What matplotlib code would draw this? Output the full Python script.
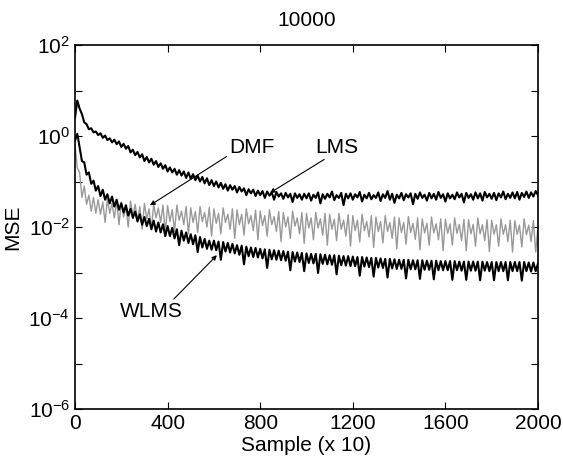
import numpy as np
import matplotlib
matplotlib.use("Agg")
import matplotlib.pyplot as plt
from matplotlib.ticker import FixedLocator, FuncFormatter, NullLocator

plt.rcParams['font.family'] = ['Liberation Sans', 'DejaVu Sans']
plt.rcParams['mathtext.default'] = 'regular'

# sample index (x 10), one value every 10 samples
sample = np.linspace(0, 2000, 201)

# log10(MSE)
lms_log10 = [
    0.40, 0.78, 0.60, 0.48, 0.30, 0.26, 0.15, 0.17, 0.08, 0.10,
    0.02, 0.06, -0.04, 0.01, -0.09, -0.05, -0.14, -0.08, -0.18, -0.12,
    -0.24, -0.17, -0.28, -0.22, -0.36, -0.30, -0.42, -0.35, -0.47, -0.40,
    -0.55, -0.46, -0.58, -0.50, -0.63, -0.55, -0.68, -0.60, -0.72, -0.64,
    -0.78, -0.69, -0.80, -0.72, -0.85, -0.75, -0.87, -0.78, -0.92, -0.80,
    -0.94, -0.84, -0.97, -0.87, -1.00, -0.90, -1.04, -0.93, -1.08, -0.97,
    -1.10, -1.00, -1.13, -1.03, -1.16, -1.06, -1.20, -1.08, -1.18, -1.10,
    -1.24, -1.12, -1.22, -1.15, -1.30, -1.17, -1.26, -1.18, -1.32, -1.20,
    -1.30, -1.21, -1.36, -1.22, -1.31, -1.24, -1.40, -1.23, -1.33, -1.26,
    -1.38, -1.25, -1.35, -1.27, -1.45, -1.26, -1.36, -1.28, -1.40, -1.27,
    -1.37, -1.26, -1.42, -1.29, -1.36, -1.24, -1.48, -1.28, -1.38, -1.27,
    -1.35, -1.22, -1.41, -1.30, -1.36, -1.25, -1.52, -1.27, -1.37, -1.26,
    -1.40, -1.28, -1.35, -1.23, -1.44, -1.29, -1.37, -1.25, -1.39, -1.30,
    -1.36, -1.24, -1.43, -1.28, -1.36, -1.21, -1.40, -1.27, -1.47, -1.29,
    -1.37, -1.25, -1.41, -1.28, -1.35, -1.26, -1.50, -1.27, -1.38, -1.24,
    -1.36, -1.29, -1.42, -1.25, -1.37, -1.27, -1.40, -1.23, -1.36, -1.28,
    -1.44, -1.26, -1.37, -1.29, -1.39, -1.24, -1.35, -1.27, -1.46, -1.25,
    -1.36, -1.28, -1.40, -1.24, -1.37, -1.26, -1.42, -1.23, -1.35, -1.27,
    -1.38, -1.25, -1.41, -1.26, -1.35, -1.22, -1.39, -1.27, -1.36, -1.24,
    -1.37, -1.23, -1.40, -1.25, -1.34, -1.22, -1.36, -1.24, -1.33, -1.21,
    -1.30,
]

wlms_log10 = [
    -0.10, 0.05, -0.25, -0.55, -0.58, -0.85, -0.80, -1.05, -0.98, -1.20,
    -1.10, -1.32, -1.18, -1.40, -1.28, -1.48, -1.33, -1.55, -1.40, -1.62,
    -1.48, -1.68, -1.52, -1.75, -1.60, -1.80, -1.66, -1.88, -1.72, -1.95,
    -1.78, -1.98, -1.82, -2.05, -1.86, -2.10, -1.90, -2.12, -1.94, -2.20,
    -1.98, -2.20, -2.02, -2.25, -2.05, -2.40, -2.08, -2.30, -2.12, -2.35,
    -2.16, -2.38, -2.18, -2.55, -2.22, -2.45, -2.26, -2.48, -2.30, -2.50,
    -2.30, -2.51, -2.32, -2.72, -2.33, -2.54, -2.35, -2.56, -2.37, -2.58,
    -2.40, -2.61, -2.41, -2.82, -2.43, -2.64, -2.45, -2.66, -2.46, -2.67,
    -2.48, -2.69, -2.49, -2.90, -2.50, -2.71, -2.51, -2.72, -2.52, -2.73,
    -2.53, -2.74, -2.54, -2.95, -2.55, -2.76, -2.56, -2.77, -2.57, -2.97,
    -2.58, -2.79, -2.59, -2.80, -2.59, -3.01, -2.60, -2.81, -2.61, -2.82,
    -2.62, -2.83, -2.62, -3.04, -2.63, -2.84, -2.64, -2.85, -2.64, -2.86,
    -2.65, -2.86, -2.66, -3.07, -2.66, -2.87, -2.67, -2.88, -2.68, -3.09,
    -2.68, -2.89, -2.69, -2.90, -2.70, -3.11, -2.70, -2.91, -2.71, -2.92,
    -2.72, -2.92, -2.72, -3.13, -2.72, -2.93, -2.73, -2.93, -2.73, -3.14,
    -2.73, -2.94, -2.74, -2.94, -2.74, -3.15, -2.74, -2.95, -2.75, -2.95,
    -2.75, -2.95, -2.75, -3.16, -2.75, -2.95, -2.76, -2.96, -2.76, -3.16,
    -2.76, -2.96, -2.76, -2.96, -2.76, -3.17, -2.76, -2.96, -2.77, -2.97,
    -2.77, -3.17, -2.77, -2.97, -2.77, -2.97, -2.77, -3.17, -2.77, -2.97,
    -2.77, -2.97, -2.77, -3.18, -2.77, -2.97, -2.78, -2.98, -2.78, -2.97,
    -2.80,
]

dmf_log10 = [
    -0.20, -0.70, -0.80, -1.35, -1.10, -1.50, -1.30, -1.65, -1.35, -1.70,
    -1.40, -1.72, -1.45, -1.90, -1.38, -1.70, -1.48, -1.80, -1.42, -1.95,
    -1.45, -1.78, -1.55, -2.00, -1.43, -1.75, -1.50, -1.85, -1.55, -2.05,
    -1.48, -1.82, -1.60, -2.05, -1.50, -1.80, -1.58, -1.90, -1.52, -2.12,
    -1.53, -1.88, -1.62, -2.10, -1.52, -1.85, -1.65, -1.95, -1.55, -2.15,
    -1.58, -1.90, -1.66, -2.12, -1.55, -1.88, -1.68, -2.00, -1.57, -2.20,
    -1.60, -1.92, -1.70, -2.15, -1.58, -1.90, -1.72, -2.05, -1.60, -2.25,
    -1.62, -1.95, -1.72, -2.18, -1.60, -1.93, -1.75, -2.08, -1.63, -2.28,
    -1.65, -1.97, -1.75, -2.20, -1.62, -1.95, -1.77, -2.10, -1.66, -2.32,
    -1.68, -2.00, -1.78, -2.25, -1.65, -1.98, -1.80, -2.15, -1.68, -2.36,
    -1.70, -2.02, -1.80, -2.28, -1.68, -2.02, -1.82, -2.18, -1.70, -2.40,
    -1.72, -2.05, -1.83, -2.30, -1.70, -2.05, -1.85, -2.20, -1.73, -2.42,
    -1.75, -2.08, -1.85, -2.33, -1.72, -2.08, -1.88, -2.22, -1.75, -2.45,
    -1.78, -2.10, -1.88, -2.35, -1.75, -2.10, -1.90, -2.25, -1.78, -2.48,
    -1.80, -2.12, -1.90, -2.38, -1.77, -2.12, -1.92, -2.27, -1.80, -2.50,
    -1.82, -2.13, -1.92, -2.40, -1.78, -2.13, -1.93, -2.28, -1.82, -2.52,
    -1.83, -2.14, -1.93, -2.40, -1.80, -2.14, -1.94, -2.30, -1.83, -2.52,
    -1.84, -2.15, -1.94, -2.42, -1.80, -2.15, -1.95, -2.30, -1.84, -2.54,
    -1.85, -2.16, -1.95, -2.42, -1.82, -2.16, -1.95, -2.32, -1.85, -2.55,
    -1.86, -2.16, -1.96, -2.44, -1.82, -2.17, -1.96, -2.32, -1.86, -2.55,
    -2.00,
]

lms = 10.0 ** np.array(lms_log10)
wlms = 10.0 ** np.array(wlms_log10)
dmf = 10.0 ** np.array(dmf_log10)

fig = plt.figure(figsize=(5.63, 4.66), dpi=100)
ax = fig.add_axes([0.1332, 0.1223, 0.8224, 0.7811])

ax.semilogy(sample, dmf, color='0.6', lw=1.0)
ax.semilogy(sample, lms, color='k', lw=1.5)
ax.semilogy(sample, wlms, color='k', lw=1.5)

ax.set_xlim(0, 2000)
ax.set_ylim(1e-6, 1e2)
ax.set_xticks([0, 400, 800, 1200, 1600, 2000])
ax.yaxis.set_major_locator(FixedLocator([10.0 ** k for k in range(-6, 3)]))
ax.yaxis.set_minor_locator(NullLocator())
ax.yaxis.set_major_formatter(FuncFormatter(
    lambda v, p: r'$\mathdefault{10^{%d}}$' % round(np.log10(v)) if round(np.log10(v)) % 2 == 0 else ''))
ax.tick_params(direction='in', top=True, right=True, length=5, labelsize=15)
for s in ax.spines.values():
    s.set_linewidth(1.2)

ax.set_title('10000', fontsize=15, pad=14)
ax.set_xlabel('Sample (x 10)', fontsize=15, labelpad=2)
ax.set_ylabel('MSE', fontsize=15)
ax.yaxis.set_label_coords(-0.114, 0.5)

arrow = dict(arrowstyle='-|>', color='k', lw=0.8, mutation_scale=7, shrinkA=0, shrinkB=0)
ax.annotate('DMF', xy=(324, 0.030), xytext=(765, 0.57), fontsize=15,
            ha='center', va='center', arrowprops=dict(arrow, relpos=(0.0, 0.1)))
ax.annotate('LMS', xy=(842, 0.056), xytext=(1132, 0.57), fontsize=15,
            ha='center', va='center', arrowprops=dict(arrow, relpos=(0.45, 0.2)))
ax.annotate('WLMS', xy=(613, 0.0024), xytext=(328, 1.4e-4), fontsize=15,
            ha='center', va='center', arrowprops=dict(arrow, relpos=(0.82, 1.0)))

fig.savefig('out.png', dpi=100)
